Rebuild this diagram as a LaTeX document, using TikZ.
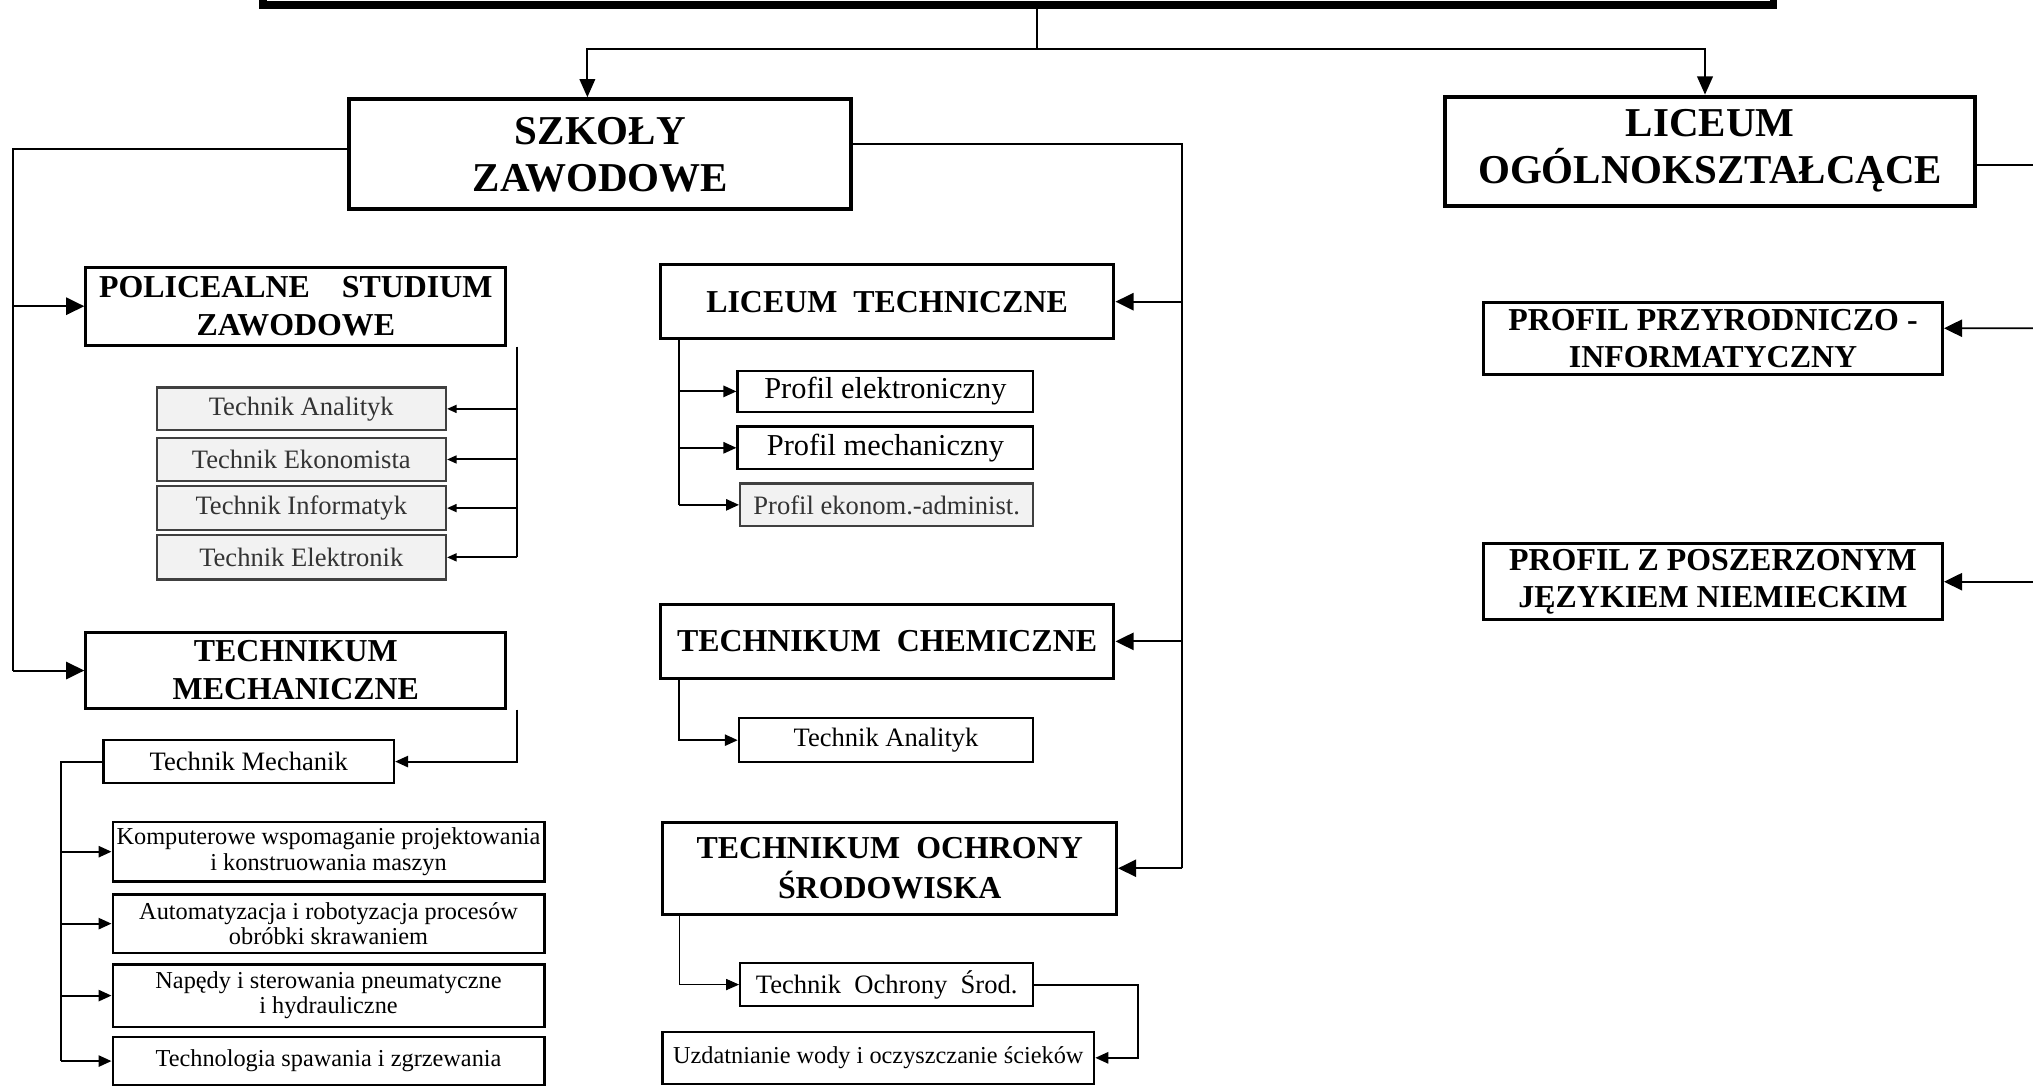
\documentclass[tikz,border=0pt]{standalone}
\usepackage{fontspec}
\setmainfont{Liberation Serif}
\usetikzlibrary{arrows.meta}

\tikzset{
  head/.style={draw, line width=2.6pt, align=center, inner sep=0pt, anchor=north west,
    font=\bfseries\fontsize{27}{31}\selectfont},
  sect/.style={draw, line width=2pt, align=center, inner sep=0pt, anchor=north west,
    font=\bfseries\fontsize{21}{25}\selectfont},
  item/.style={draw, line width=1.5pt, align=center, inner sep=0pt, anchor=north west,
    font=\fontsize{17.5}{17.5}\selectfont},
  twoline/.style={item, font=\fontsize{16}{16.5}\selectfont},
  faint/.style={item, fill=black!5, draw=black!75, text=black!80},
  link/.style={line width=1.3pt},
  bigtip/.style={link, -{Triangle[length=4.2mm,width=4mm]}},
  midtip/.style={link, -{Triangle[length=3mm,width=2.6mm]}},
  smalltip/.style={link, -{Triangle[length=2.2mm,width=1.8mm]}},
  downtip/.style={link, -{Triangle[length=4.2mm,width=3.6mm]}}
}

\begin{document}
\begin{tikzpicture}[x=0.3mm,y=-0.3mm]
        \useasboundingbox (0,0) rectangle (1568,837);

        % Top of the chart (cut off).
        \node[draw, line width=5pt, anchor=south west, minimum width=349.5mm, minimum height=20mm] (top) at (200,7) {};

        % Main branches.
        \node[head, minimum width=116.1mm, minimum height=25.5mm] (szk) at (268,75) {SZKOŁY\\ZAWODOWE};
        \node[head, minimum width=122.7mm, minimum height=25.2mm] (lo) at (1113,73) {LICEUM\\OGÓLNOKSZTAŁCĄCE};

        % Left column.
        \node[sect, minimum width=97.2mm, minimum height=18mm] (pz) at (65,205) {POLICEALNE\quad STUDIUM\\ZAWODOWE};
        \node[faint, minimum width=66.9mm, minimum height=9.9mm] (ta1) at (120,298) {Technik Analityk};
        \node[faint, minimum width=66.9mm, minimum height=9.9mm] (te) at (120,337) {Technik Ekonomista};
        \node[faint, minimum width=66.9mm, minimum height=10.2mm] (ti) at (120,374) {Technik Informatyk};
        \node[faint, minimum width=66.9mm, minimum height=10.2mm] (tel) at (120,412) {Technik Elektronik};

        \node[sect, minimum width=97.2mm, minimum height=17.4mm] (tm) at (65,487) {TECHNIKUM\\MECHANICZNE};
        \node[item, minimum width=67.2mm, minimum height=9.9mm] (tmech) at (79,570) {Technik Mechanik};
        \node[twoline, minimum width=99.9mm, minimum height=13.8mm] (kw) at (86,633) {Komputerowe wspomaganie projektowania\\i konstruowania maszyn};
        \node[twoline, minimum width=99.9mm, minimum height=13.5mm] (au) at (86,689) {Automatyzacja i robotyzacja procesów\\obróbki skrawaniem};
        \node[twoline, minimum width=99.9mm, minimum height=14.4mm] (np) at (86,743) {Napędy i sterowania pneumatyczne\\i hydrauliczne};
        \node[twoline, minimum width=99.9mm, minimum height=11.1mm] (ts) at (86,799) {Technologia spawania i zgrzewania};

        % Middle column.
        \node[sect, minimum width=105mm, minimum height=17.1mm] (lt) at (508,203) {LICEUM~ TECHNICZNE};
        \node[item, font=\fontsize{20}{20}\selectfont, minimum width=68.4mm, minimum height=9.6mm] (pe) at (568,285) {Profil elektroniczny};
        \node[item, font=\fontsize{20}{20}\selectfont, minimum width=68.4mm, minimum height=9.9mm] (pm) at (568,328) {Profil mechaniczny};
        \node[faint, minimum width=67.8mm, minimum height=9.9mm] (pa) at (570,372) {Profil ekonom.-administ.};

        \node[sect, minimum width=105mm, minimum height=17.1mm] (tc) at (508,465) {TECHNIKUM~ CHEMICZNE};
        \node[item, minimum width=68.1mm, minimum height=10.2mm] (ta2) at (569,553) {Technik Analityk};

        \node[sect, font=\bfseries\fontsize{21}{26.5}\selectfont, minimum width=105mm, minimum height=21.3mm] (to) at (510,633) {TECHNIKUM~ OCHRONY\\ŚRODOWISKA};
        \node[item, minimum width=67.8mm, minimum height=9.9mm] (tos) at (570,742) {Technik~ Ochrony~ Środ.};
        \node[item, font=\fontsize{16}{16}\selectfont, minimum width=99.9mm, minimum height=12mm] (uw) at (510,795) {Uzdatnianie wody i oczyszczanie ścieków};

        % Right column.
        \node[sect, font=\bfseries\fontsize{21}{24}\selectfont, minimum width=106.2mm, minimum height=16.8mm] (pp) at (1143,232) {PROFIL PRZYRODNICZO -\\INFORMATYCZNY};
        \node[sect, font=\bfseries\fontsize{21}{24}\selectfont, minimum width=106.2mm, minimum height=17.7mm] (pn) at (1143,418) {PROFIL Z POSZERZONYM\\JĘZYKIEM NIEMIECKIM};

        % Split from the top.
        \coordinate (split) at (800,38);
        \draw[link] (top.south -| split) -- (split);
        \draw[downtip] (split) -| ([xshift=-3mm]szk.north);
        \draw[downtip] (split) -| ([xshift=-1.2mm]lo.north);

        % Left bus.
        \coordinate (lbus) at (10,115);
        \draw[link] (szk.west |- lbus) -- (lbus) -- (lbus |- tm.west);
        \foreach \n in {pz,tm}
            \draw[bigtip] (lbus |- \n.west) -- (\n.west);

        % Right bus.
        \coordinate (rbus) at (912,111);
        \draw[link] (szk.east |- rbus) -- (rbus) -- (rbus |- to.east);
        \foreach \n in {lt,tc,to}
            \draw[bigtip] (rbus |- \n.east) -- (\n.east);

        % Policealne studium.
        \coordinate (pbus) at (399,0);
        \draw[link] (pz.south -| pbus) -- (pbus |- tel.east);
        \foreach \n in {ta1,te,ti,tel}
            \draw[smalltip] (pbus |- \n.east) -- (\n.east);

        % Technikum mechaniczne.
        \draw[midtip] (tm.south -| pbus) |- (tmech.east);
        \coordinate (mbus) at (47,0);
        \draw[link] (tmech.west) -| (mbus |- ts.west);
        \foreach \n in {kw,au,np,ts}
            \draw[midtip] (mbus |- \n.west) -- (\n.west);

        % Liceum techniczne, technikum chemiczne, ochrony.
        \coordinate (cbus) at (524,0);
        \draw[link] (lt.south -| cbus) -- (cbus |- pa.west);
        \foreach \n in {pe,pm,pa}
            \draw[midtip] (cbus |- \n.west) -- (\n.west);
        \draw[midtip] (tc.south -| cbus) |- (ta2.west);
        \draw[midtip, line width=0.6pt] (to.south -| cbus) |- (tos.west);
        \coordinate (obus) at (878,0);
        \draw[midtip] (tos.east) -| (obus |- uw.east) -- (uw.east);

        % Liceum ogolnoksztalcace.
        \coordinate (redge) at (1568,127);
        \draw[link] (lo.east |- redge) -- (redge);
        \draw[bigtip] (redge |- pp.east) ++(0,-8) -- ([yshift=2.4mm]pp.east);
        \draw[bigtip] (redge |- pn.east) -- (pn.east);

\end{tikzpicture}
\end{document}
